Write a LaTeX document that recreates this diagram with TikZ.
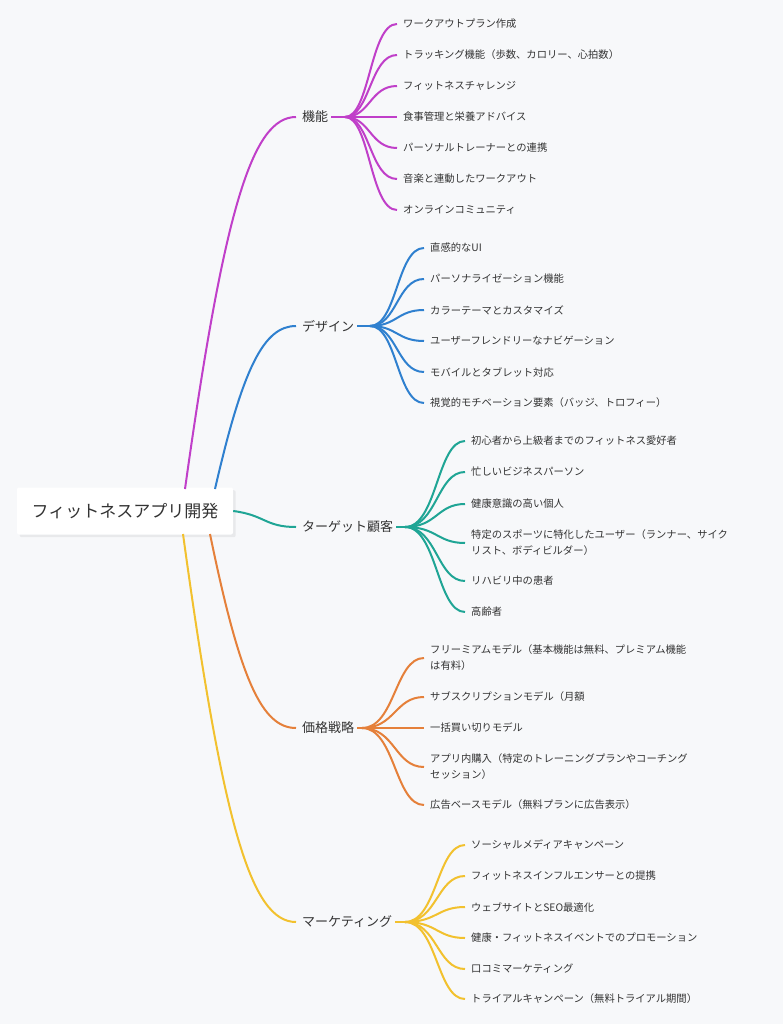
\documentclass[tikz,border=0pt]{standalone}
\usepackage{fontspec}
\setmainfont{Noto Sans CJK JP}
\usetikzlibrary{shadows}
\definecolor{bg}{HTML}{F7F8FA}
\definecolor{cfunc}{HTML}{C03FC9}
\definecolor{cdes}{HTML}{2F80CF}
\definecolor{ctgt}{HTML}{1FA595}
\definecolor{cprice}{HTML}{E5803A}
\definecolor{cmkt}{HTML}{F2C12E}
\begin{document}
\begin{tikzpicture}
    [%%%%%%%%%%%%%%%%%%%%%%%%%%%%%%
        x=1pt, y=-1pt,
        root/.style={rectangle, fill=white, rounded corners=2pt, drop shadow={opacity=0.12}, minimum width=216pt, minimum height=47pt, font=\fontsize{17}{20}\selectfont, text=black!80},
        cat/.style={anchor=west, inner sep=0pt, font=\fontsize{13}{15}\selectfont, text=black!80},
        leaf/.style={anchor=west, inner sep=0pt, align=left, font=\fontsize{10.3}{16}\selectfont, text=black!80},
        link/.style={line width=2pt},
    ]%%%%%%%%%%%%%%%%%%%%%%%%%%%%%%
\fill[bg] (0,0) rectangle (783,1024);
\useasboundingbox (0,0) rectangle (783,1024);

\node[root] (app) at (125,511) {フィットネスアプリ開発};

\node[cat] (func) at (302,117) {機能};
\node[cat] (des) at (302,326) {デザイン};
\node[cat] (tgt) at (302,527) {ターゲット顧客};
\node[cat] (price) at (302,728) {価格戦略};
\node[cat] (mkt) at (302,922) {マーケティング};

\coordinate (fanfunc) at (345,117);
\coordinate (fandes) at (370,326);
\coordinate (fantgt) at (405,527);
\coordinate (fanprice) at (362,728);
\coordinate (fanmkt) at (405,922);

% root to categories
\draw[link, cfunc] (185,489) .. controls (224,210) and (252,117) .. ([xshift=-6pt]func.west);
\draw[link, cdes] (215,489) .. controls (243,367) and (264,326) .. ([xshift=-6pt]des.west);
\draw[link, ctgt] (app.east) .. controls (265,515) and (265,527) .. ([xshift=-6pt]tgt.west);
\draw[link, cprice] (210,534) .. controls (240,680) and (262,728) .. ([xshift=-6pt]price.west);
\draw[link, cmkt] (183,534) .. controls (223,825) and (251,922) .. ([xshift=-6pt]mkt.west);

\draw[link, cfunc] ([xshift=3pt]func.east) -- (fanfunc);
\draw[link, cdes] ([xshift=3pt]des.east) -- (fandes);
\draw[link, ctgt] ([xshift=3pt]tgt.east) -- (fantgt);
\draw[link, cprice] ([xshift=3pt]price.east) -- (fanprice);
\draw[link, cmkt] ([xshift=3pt]mkt.east) -- (fanmkt);

% leaves
\foreach \y/\t [count=\i] in {24/ワークアウトプラン作成, 55/トラッキング機能（歩数、カロリー、心拍数）, 86/フィットネスチャレンジ, 117/食事管理と栄養アドバイス, 148/パーソナルトレーナーとの連携, 179/音楽と連動したワークアウト, 210/オンラインコミュニティ}{
    \node[leaf] (func\i) at (403,\y) {\t};
    \draw[link, cfunc] (fanfunc) .. controls (370,117) and (370,\y) .. ([xshift=-6pt]func\i.west);
}
\foreach \y/\t [count=\i] in {248/直感的なUI/UX, 279/パーソナライゼーション機能, 310/カラーテーマとカスタマイズ, 341/ユーザーフレンドリーなナビゲーション, 372/モバイルとタブレット対応, 403/視覚的モチベーション要素（バッジ、トロフィー）}{
    \node[leaf] (des\i) at (430,\y) {\t};
    \draw[link, cdes] (fandes) .. controls (397,326) and (397,\y) .. ([xshift=-6pt]des\i.west);
}
\foreach \y/\t [count=\i] in {441/初心者から上級者までのフィットネス愛好者, 472/忙しいビジネスパーソン, 504/健康意識の高い個人, 543/{特定のスポーツに特化したユーザー（ランナー、サイク\\リスト、ボディビルダー）}, 581/リハビリ中の患者, 612/高齢者}{
    \node[leaf] (tgt\i) at (471,\y) {\t};
    \draw[link, ctgt] (fantgt) .. controls (437,527) and (437,\y) .. ([xshift=-6pt]tgt\i.west);
}
\foreach \y/\t [count=\i] in {658/{フリーミアムモデル（基本機能は無料、プレミアム機能\\は有料）}, 697/サブスクリプションモデル（月額/年額）, 728/一括買い切りモデル, 767/{アプリ内購入（特定のトレーニングプランやコーチング\\セッション）}, 805/広告ベースモデル（無料プランに広告表示）}{
    \node[leaf] (price\i) at (430,\y) {\t};
    \draw[link, cprice] (fanprice) .. controls (395,728) and (395,\y) .. ([xshift=-6pt]price\i.west);
}
\foreach \y/\t [count=\i] in {845/ソーシャルメディアキャンペーン, 876/フィットネスインフルエンサーとの提携, 907/ウェブサイトとSEO最適化, 938/健康・フィットネスイベントでのプロモーション, 969/口コミマーケティング, 999/トライアルキャンペーン（無料トライアル期間）}{
    \node[leaf] (mkt\i) at (471,\y) {\t};
    \draw[link, cmkt] (fanmkt) .. controls (437,922) and (437,\y) .. ([xshift=-6pt]mkt\i.west);
}
\end{tikzpicture}
\end{document}
